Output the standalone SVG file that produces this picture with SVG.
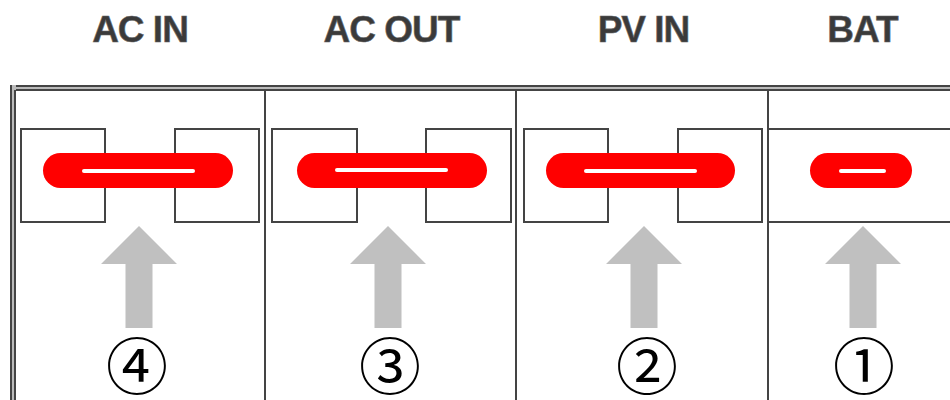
<svg xmlns="http://www.w3.org/2000/svg" width="950" height="400" viewBox="0 0 950 400">
<defs>
<style>
.title{font-family:"Liberation Sans",Arial,sans-serif;font-weight:bold;font-size:37px;fill:#3a3a3a;stroke:#666;stroke-width:0.6;text-anchor:middle;letter-spacing:-1px}
.num{font-family:"Noto Sans CJK JP","DejaVu Sans",sans-serif;font-size:62px;fill:#000;text-anchor:middle;dominant-baseline:central}
.frame{stroke:#444;stroke-width:2;fill:none}
.box{stroke:#444;stroke-width:2;fill:none}
.pill{fill:#ff0000}
.slot{stroke:#fff;stroke-width:4;stroke-linecap:round}
.arrow{fill:#c0c0c0}
</style>
</defs>
<rect width="950" height="400" fill="#fff"/>
<g id="frame">
<rect x="10" y="85" width="940" height="6" fill="#bbb"/>
<line class="frame" x1="10" y1="86" x2="950" y2="86"/>
<line class="frame" x1="15" y1="90" x2="950" y2="90"/>
<rect x="10" y="85" width="6" height="315" fill="#bbb"/>
<line class="frame" x1="11" y1="85" x2="11" y2="400"/>
<line class="frame" x1="15" y1="90" x2="15" y2="400"/>
<line class="frame" x1="265" y1="90" x2="265" y2="400"/>
<line class="frame" x1="516" y1="90" x2="516" y2="400"/>
<line class="frame" x1="768" y1="90" x2="768" y2="400"/>
<line class="frame" x1="768" y1="129" x2="950" y2="129"/>
<line class="frame" x1="768" y1="222" x2="950" y2="222"/>
</g>
<g id="ac-in">
<text class="title" x="140" y="42">AC IN</text>
<rect class="box" x="21" y="129" width="84" height="93"/>
<rect class="box" x="175" y="129" width="84" height="93"/>
<rect class="pill" x="43" y="153" width="190" height="35" rx="17.5"/>
<line class="slot" x1="84" y1="171" x2="193" y2="171"/>
<polygon class="arrow" points="139,226 177,264 152.5,264 152.5,328 125.5,328 125.5,264 101,264"/>
<text class="num" x="137" y="363">④</text>
</g>
<g id="ac-out">
<text class="title" x="391.5" y="42">AC OUT</text>
<rect class="box" x="272" y="129" width="85" height="93"/>
<rect class="box" x="426" y="129" width="85" height="93"/>
<rect class="pill" x="297" y="153" width="190" height="35" rx="17.5"/>
<line class="slot" x1="337" y1="170" x2="446" y2="170"/>
<polygon class="arrow" points="388,226 426,264 401.5,264 401.5,328 374.5,328 374.5,264 350,264"/>
<text class="num" x="390" y="363">③</text>
</g>
<g id="pv-in">
<text class="title" x="643.5" y="42">PV IN</text>
<rect class="box" x="524" y="129" width="84" height="93"/>
<rect class="box" x="678" y="129" width="84" height="93"/>
<rect class="pill" x="546" y="153" width="189" height="35" rx="17.5"/>
<line class="slot" x1="586" y1="171" x2="695" y2="171"/>
<polygon class="arrow" points="644,226 682,264 657.5,264 657.5,328 630.5,328 630.5,264 606,264"/>
<text class="num" x="647" y="363">②</text>
</g>
<g id="bat">
<text class="title" x="862.5" y="42">BAT</text>
<rect class="pill" x="810" y="153" width="102" height="35" rx="17.5"/>
<line class="slot" x1="841" y1="171" x2="884" y2="171"/>
<polygon class="arrow" points="863,226 901,264 876.5,264 876.5,328 849.5,328 849.5,264 825,264"/>
<text class="num" x="864" y="363">①</text>
</g>
</svg>
